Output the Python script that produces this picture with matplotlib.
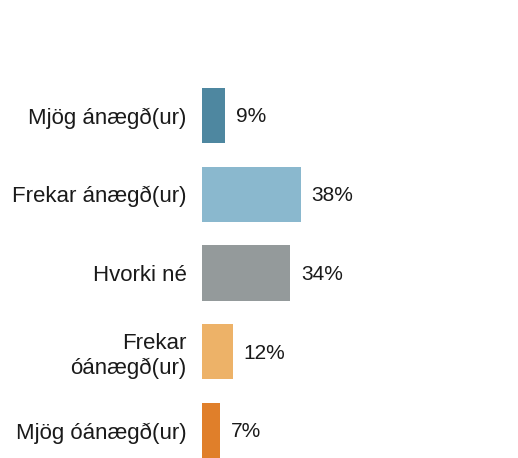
import matplotlib
matplotlib.use("Agg")
import matplotlib.pyplot as plt

categories = ["Mjög ánægð(ur)", "Frekar ánægð(ur)", "Hvorki né", "Frekar\nóánægð(ur)", "Mjög óánægð(ur)"]
values = [9, 38, 34, 12, 7]
colors = ["#4E87A0", "#8AB8CE", "#949A9B", "#EDB268", "#E07F2A"]

plt.rcParams['font.family'] = ['Liberation Sans', 'DejaVu Sans']

W, H = 518, 458
fig = plt.figure(figsize=(W / 100, H / 100), dpi=100)
left_px, top_px, bottom_px = 202, 76, 458
ax_w_px = 300
ax = fig.add_axes([left_px / W, (H - bottom_px) / H, ax_w_px / W, (bottom_px - top_px) / H])

ypos = list(range(len(categories)))
ax.barh(ypos, values, height=0.70, color=colors)
ax.set_xlim(0, ax_w_px / 2.6)
ax.set_ylim(4.349, -0.502)
ax.set_yticks(ypos)
ax.set_yticklabels(categories, fontsize=16, color="#1a1a1a", ha="right",
                   multialignment="right", linespacing=1.2)
ax.tick_params(axis="y", length=0, pad=11)
ax.set_xticks([])
for s in ax.spines.values():
    s.set_visible(False)

for y, v in zip(ypos, values):
    ax.annotate(f"{v}%", xy=(v, y), xytext=(7.5, -1), textcoords="offset points",
                ha="left", va="center", fontsize=15, color="#1a1a1a")

fig.savefig("out.png", dpi=100)
